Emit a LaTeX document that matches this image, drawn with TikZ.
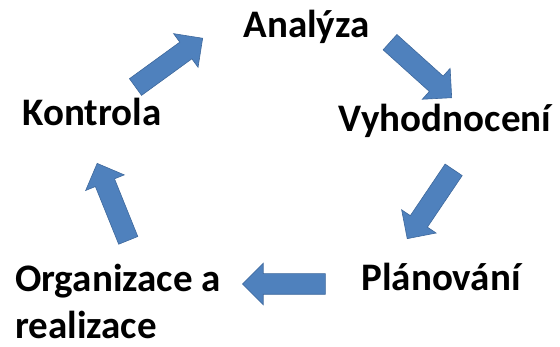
\documentclass[tikz,border=0pt]{standalone}
\usepackage{fontspec}
\setmainfont{Carlito}
\usetikzlibrary{shapes.arrows}
\definecolor{arrowblue}{RGB}{79,129,189}
\definecolor{arrowedge}{RGB}{62,104,156}
\begin{document}
\begin{tikzpicture}[x=1pt,y=-1pt,
  stage/.style={font=\fontsize{39}{47}\selectfont\bfseries,inner sep=0pt,anchor=base},
  bigarrow/.style={single arrow,fill=arrowblue,draw=arrowedge,line width=0.6pt,
    minimum height=83pt,inner sep=10pt,single arrow head extend=10.5pt,
    single arrow tip angle=90,anchor=tip}]
\useasboundingbox (0,0) rectangle (560,347);
% stages of the cycle
\node[stage] (analyza) at (306.5,38) {Analýza};
\node[stage] (vyhodnoceni) at (445,132) {Vyhodnocení};
\node[stage] (planovani) at (441,291) {Plánování};
\node[stage,anchor=base west,align=left] (organizace) at (15,339) {Organizace a\\realizace};
\node[stage] (kontrola) at (92,126) {Kontrola};
% block arrows, given by tip and direction
\foreach \x/\y/\ang [count=\i] in {203/38/36, 452/98/-42, 407/239/-124, 242/284/180, 97/163/112}
  \node[bigarrow,rotate=\ang] (arrow\i) at (\x,\y) {};
\end{tikzpicture}
\end{document}
